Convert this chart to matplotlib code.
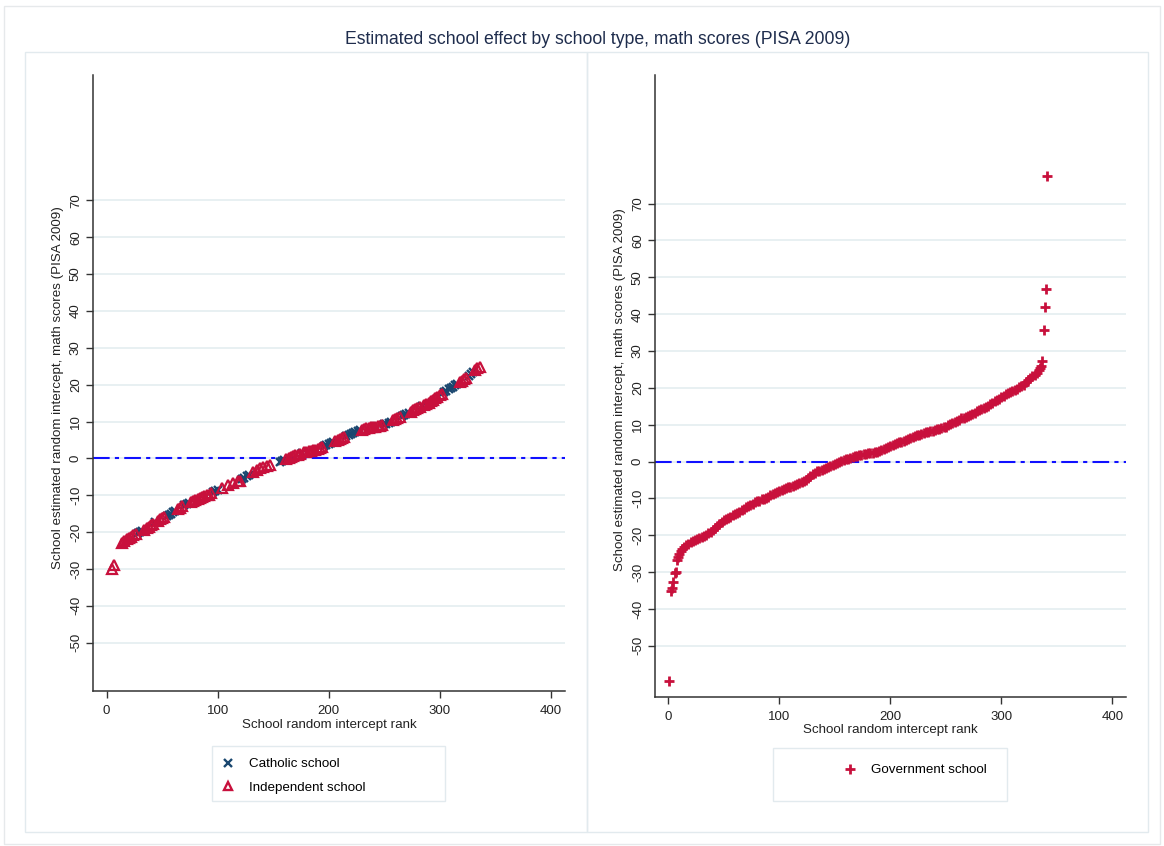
import matplotlib

matplotlib.use("Agg")
import matplotlib.pyplot as plt
from matplotlib.lines import Line2D
from matplotlib.patches import Rectangle

plt.rcParams["font.family"] = ["Liberation Sans", "DejaVu Sans"]
plt.rcParams["axes.unicode_minus"] = False

TITLE = "Estimated school effect by school type, math scores (PISA 2009)"
YLABEL = "School estimated random intercept, math scores (PISA 2009)"
XLABEL = "School random intercept rank"

# left panel: Catholic and Independent schools (rank, estimated intercept)
catholic_rank = [28, 30, 32, 44, 54, 56, 58, 60, 62, 70,
                 72, 74, 96, 98, 100, 122, 124, 126, 128, 156,
                 158, 160, 176, 196, 198, 200, 202, 204, 216, 218,
                 220, 222, 224, 226, 228, 250, 252, 254, 256, 266,
                 268, 270, 272, 284, 304, 306, 308, 310, 312, 314,
                 316, 326, 328, 330]
catholic_effect = [-20.3, -20.0, -19.6, -17.3, -15.6, -15.3, -15.0, -14.6, -14.2, -12.7,
                   -12.4, -12.1, -9.2, -8.9, -8.6, -5.6, -5.2, -4.8, -4.4, -1.1,
                   -0.8, -0.5, 1.4, 3.3, 3.6, 3.9, 4.2, 4.5, 6.0, 6.3,
                   6.6, 6.9, 7.2, 7.4, 7.6, 9.2, 9.4, 9.7, 10.0, 11.5,
                   11.8, 12.1, 12.4, 14.2, 17.9, 18.3, 18.7, 19.1, 19.5, 19.9,
                   20.3, 22.4, 22.9, 23.4]

independent_rank = [5, 7, 14, 16, 18, 20, 22, 24, 26, 34,
                    36, 38, 40, 42, 46, 48, 50, 52, 64, 66,
                    68, 76, 78, 80, 82, 84, 86, 88, 90, 92,
                    94, 104, 109, 114, 118, 120, 132, 135, 138, 141,
                    144, 147, 162, 164, 166, 168, 170, 172, 174, 178,
                    180, 182, 184, 186, 188, 190, 192, 194, 206, 208,
                    210, 212, 214, 230, 232, 234, 236, 238, 240, 242,
                    244, 246, 248, 258, 260, 262, 264, 274, 276, 278,
                    280, 282, 286, 288, 290, 292, 294, 296, 298, 300,
                    302, 318, 320, 322, 324, 332, 334, 336]
independent_effect = [-30.1, -28.8, -23.0, -22.5, -22.0, -21.6, -21.2, -20.9, -20.6, -19.3,
                      -19.0, -18.6, -18.2, -17.8, -16.9, -16.5, -16.1, -15.9, -13.8, -13.4,
                      -13.0, -11.8, -11.5, -11.3, -11.0, -10.8, -10.5, -10.2, -10.0, -9.8,
                      -9.5, -8.0, -7.3, -6.7, -6.2, -6.0, -3.6, -3.2, -2.7, -2.4,
                      -2.1, -1.8, -0.1, 0.2, 0.4, 0.6, 0.8, 1.0, 1.2, 1.6,
                      1.8, 1.9, 2.0, 2.2, 2.3, 2.5, 2.7, 3.0, 4.8, 5.1,
                      5.3, 5.5, 5.7, 7.8, 8.0, 8.2, 8.3, 8.4, 8.5, 8.6,
                      8.7, 8.8, 9.0, 10.3, 10.6, 10.9, 11.2, 12.7, 13.0, 13.3,
                      13.6, 13.9, 14.5, 14.8, 15.1, 15.5, 15.9, 16.3, 16.7, 17.1,
                      17.5, 20.7, 21.1, 21.5, 21.9, 23.9, 24.4, 24.9]

# right panel: Government schools
government_rank = [1, 2, 3, 4, 6, 7, 8, 9, 10, 11,
                   12, 14, 16, 18, 20, 22, 24, 26, 28, 30,
                   32, 34, 36, 38, 40, 42, 44, 46, 48, 50,
                   52, 54, 56, 58, 60, 62, 64, 66, 68, 70,
                   72, 74, 76, 78, 80, 82, 84, 86, 88, 90,
                   92, 94, 96, 98, 100, 102, 104, 106, 108, 110,
                   112, 114, 116, 118, 120, 122, 124, 126, 128, 130,
                   132, 134, 136, 138, 140, 142, 144, 146, 148, 150,
                   152, 154, 156, 158, 160, 162, 164, 166, 168, 170,
                   172, 174, 176, 178, 180, 182, 184, 186, 188, 190,
                   192, 194, 196, 198, 200, 202, 204, 206, 208, 210,
                   212, 214, 216, 218, 220, 222, 224, 226, 228, 230,
                   232, 234, 236, 238, 240, 242, 244, 246, 248, 250,
                   252, 254, 256, 258, 260, 262, 264, 266, 268, 270,
                   272, 274, 276, 278, 280, 282, 284, 286, 288, 290,
                   292, 294, 296, 298, 300, 302, 304, 306, 308, 310,
                   312, 314, 316, 318, 320, 322, 324, 326, 328, 330,
                   332, 334, 335, 336, 337, 338, 339, 340, 341]
government_effect = [-59.5, -35.0, -34.2, -32.8, -30.2, -29.9, -26.8, -26.0, -25.0, -24.4,
                     -23.8, -23.2, -22.7, -22.3, -21.9, -21.6, -21.3, -21.0, -20.8, -20.5,
                     -20.2, -19.9, -19.5, -19.1, -18.6, -18.1, -17.6, -16.9, -16.3, -16.0,
                     -15.7, -15.3, -15.0, -14.6, -14.2, -13.9, -13.6, -13.2, -12.8, -12.4,
                     -12.0, -11.7, -11.4, -11.1, -10.8, -10.6, -10.3, -10.1, -9.9, -9.6,
                     -9.2, -8.9, -8.6, -8.3, -8.1, -7.8, -7.5, -7.2, -7.0, -6.8,
                     -6.6, -6.4, -6.2, -5.9, -5.6, -5.3, -5.0, -4.5, -3.9, -3.3,
                     -3.0, -2.7, -2.5, -2.2, -2.0, -1.8, -1.5, -1.2, -0.9, -0.6,
                     -0.3, 0.0, 0.2, 0.4, 0.6, 0.8, 1.0, 1.2, 1.4, 1.6,
                     1.7, 1.8, 2.0, 2.1, 2.2, 2.3, 2.4, 2.5, 2.6, 2.8,
                     3.1, 3.4, 3.7, 4.0, 4.3, 4.5, 4.8, 5.0, 5.2, 5.4,
                     5.6, 5.8, 6.0, 6.3, 6.6, 6.9, 7.1, 7.3, 7.5, 7.7,
                     7.9, 8.1, 8.2, 8.3, 8.5, 8.7, 8.9, 9.1, 9.3, 9.5,
                     9.8, 10.1, 10.5, 10.8, 11.1, 11.4, 11.7, 11.9, 12.2, 12.4,
                     12.7, 13.0, 13.3, 13.6, 13.9, 14.2, 14.5, 14.8, 15.1, 15.5,
                     15.9, 16.3, 16.7, 17.1, 17.5, 17.9, 18.3, 18.6, 18.9, 19.2,
                     19.5, 19.8, 20.1, 20.4, 20.8, 21.5, 22.2, 22.8, 23.2, 23.6,
                     24.1, 24.8, 25.4, 26.0, 27.2, 35.8, 41.9, 46.8, 77.5]

y_ticks = [-50, -40, -30, -20, -10, 0, 10, 20, 30, 40, 50, 60, 70]
x_ticks = [0, 100, 200, 300, 400]

NAVY = "#1a476f"
RED = "#c8103c"
INK = "#222222"
W, H = 1164, 846
LABEL_SIZE = 9.6


def px_box(x0, y0, x1, y1):
    return [x0 / W, 1 - y1 / H, (x1 - x0) / W, (y1 - y0) / H]


def style_axes(ax, xlim, ylim):
    ax.set_xlim(*xlim)
    ax.set_ylim(*ylim)
    for side in ("top", "right"):
        ax.spines[side].set_visible(False)
    for side in ("left", "bottom"):
        ax.spines[side].set_color("#333333")
        ax.spines[side].set_linewidth(1.1)
    ax.set_yticks(y_ticks)
    ax.set_xticks(x_ticks)
    ax.tick_params(axis="both", direction="out", length=5, width=1.0,
                   color="#333333", labelsize=9.5, labelcolor=INK)
    ax.tick_params(axis="y", pad=3)
    ax.tick_params(axis="x", pad=5)
    for lab in ax.get_yticklabels():
        lab.set_rotation(90)
        lab.set_va("center")
    for y in y_ticks:
        ax.axhline(y, color="#e8f0f2", linewidth=1.4, zorder=0)
    ax.axhline(0, color="#1010ff", linewidth=1.5, dashes=(8, 2.5, 2, 2.5), zorder=1)


fig = plt.figure(figsize=(W / 100, H / 100), dpi=100)

# outer frame and panel frames
frame_kw = dict(transform=fig.transFigure, fill=False, linewidth=1.0)
fig.patches.append(Rectangle((4 / W, 1 - 844 / H), 1156 / W, 838 / H,
                             edgecolor="#e6e9eb", **frame_kw))
for x0, x1 in ((25, 587), (587, 1148)):
    fig.patches.append(Rectangle((x0 / W, 1 - 832 / H), (x1 - x0) / W, 780 / H,
                                 edgecolor="#e2eaee", **frame_kw))

fig.text(598 / W, 1 - 40 / H, TITLE, ha="center", va="center",
         fontsize=12.7, color="#1f2d4d")

# left panel
ax_l = fig.add_axes(px_box(93, 75, 565, 691))
style_axes(ax_l, (-12.3, 412.9), (-63.1, 104.0))
ax_l.plot(catholic_rank, catholic_effect, linestyle="none", marker="x",
          markersize=6.2, markeredgewidth=1.7, color=NAVY, zorder=3)
ax_l.plot(independent_rank, independent_effect, linestyle="none", marker="^",
          markersize=6.5, markeredgewidth=1.6, markerfacecolor="none",
          markeredgecolor=RED, zorder=3)
fig.text(58 / W, 1 - 388 / H, YLABEL, rotation=90, ha="center", va="center",
         fontsize=LABEL_SIZE, color=INK)
fig.text(329 / W, 1 - 725 / H, XLABEL, ha="center", va="center",
         fontsize=LABEL_SIZE, color=INK)

# right panel
ax_r = fig.add_axes(px_box(655, 75, 1126, 697))
style_axes(ax_r, (-12.0, 412.3), (-63.9, 104.9))
ax_r.plot(government_rank, government_effect, linestyle="none", marker="+",
          markersize=7.5, markeredgewidth=2.0, color=RED, zorder=3)
fig.text(620 / W, 1 - 390 / H, YLABEL, rotation=90, ha="center", va="center",
         fontsize=LABEL_SIZE, color=INK)
fig.text(890 / W, 1 - 730 / H, XLABEL, ha="center", va="center",
         fontsize=LABEL_SIZE, color=INK)

# legends: light box + frameless legend inside
for x0, y0, x1, y1 in ((212, 746, 445, 801), (773, 748, 1007, 801)):
    fig.patches.append(Rectangle((x0 / W, 1 - y1 / H), (x1 - x0) / W, (y1 - y0) / H,
                                 edgecolor="#e2eaee", **frame_kw))

h_cath = Line2D([], [], linestyle="none", marker="x", markersize=6,
                markeredgewidth=1.7, color=NAVY)
h_ind = Line2D([], [], linestyle="none", marker="^", markersize=6,
               markeredgewidth=1.7, markerfacecolor="none", markeredgecolor=RED)
h_gov = Line2D([], [], linestyle="none", marker="+", markersize=7.5,
               markeredgewidth=2.0, color=RED)

fig.legend([h_cath, h_ind], ["Catholic school", "Independent school"],
           loc="upper left", bbox_to_anchor=(220 / W, 1 - 758 / H),
           frameon=False, fontsize=LABEL_SIZE, handletextpad=1.0, labelspacing=0.85,
           handlelength=1.2, borderaxespad=0, borderpad=0.0)
fig.legend([h_gov], ["Government school"],
           loc="upper left", bbox_to_anchor=(842 / W, 1 - 764 / H),
           frameon=False, fontsize=LABEL_SIZE, handletextpad=1.0,
           handlelength=1.2, borderaxespad=0, borderpad=0.0)

fig.savefig("out.png", dpi=100, facecolor="white")
